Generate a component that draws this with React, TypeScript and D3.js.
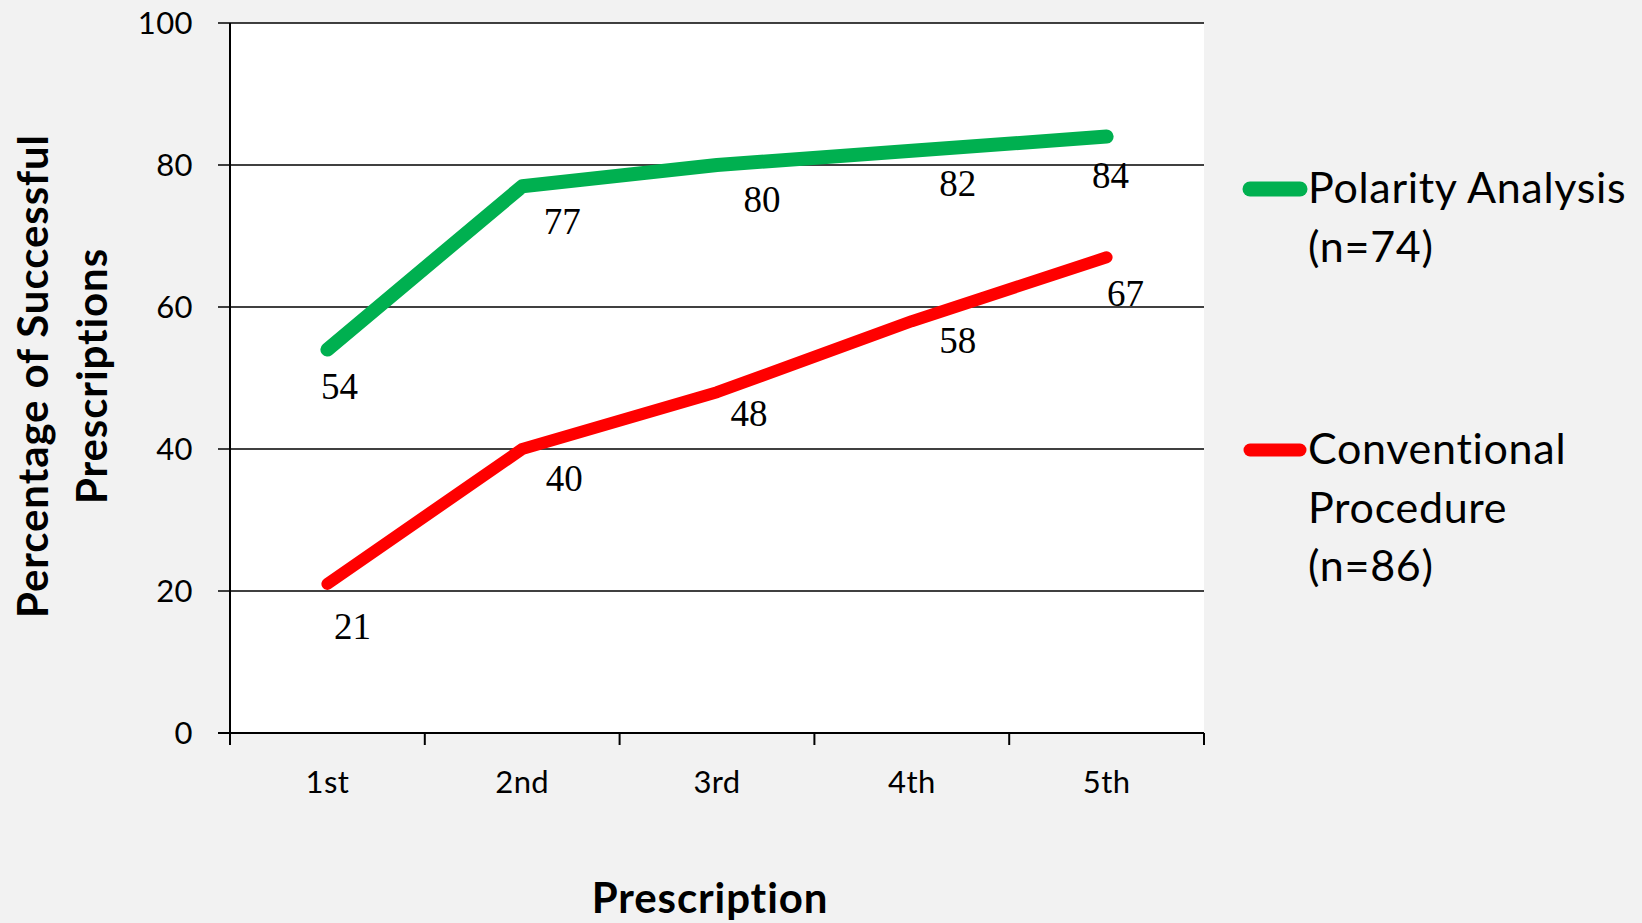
import React from "react";
import * as d3 from "d3";

const categories = ["1st", "2nd", "3rd", "4th", "5th"];
const polarityValues = [54, 77, 80, 82, 84];
const conventionalValues = [21, 40, 48, 58, 67];
const yTicks = [0, 20, 40, 60, 80, 100];
const seriesNames = [["Polarity Analysis", "(n=74)"], ["Conventional", "Procedure", "(n=86)"]];

// label nudges (px, relative to point) - layout only
const polarityNudge = [[12, 37], [40, 36], [45, 35], [46, 33], [4, 39]];
const conventionalNudge = [[25, 43], [42, 30], [32, 22], [46, 20], [19, 37]];

const W = 1642;
const H = 923;
const plot = { left: 230, right: 1204, top: 23, bottom: 733 };
const GREEN = "#00B050";
const RED = "#FF0000";
const SANS = "Lato, 'Open Sans', sans-serif";
const SERIF = "'Liberation Serif', 'DejaVu Serif', serif";

export default function App() {
  const x = d3.scaleBand<string>().domain(categories).range([plot.left, plot.right]).padding(0);
  const y = d3.scaleLinear().domain([0, 100]).range([plot.bottom, plot.top]);
  const cx = (c: string) => (x(c) as number) + x.bandwidth() / 2;
  const line = d3
    .line<number>()
    .x((_, i) => cx(categories[i]))
    .y((v) => y(v));

  const series = [
    { values: polarityValues, color: GREEN, width: 14, nudge: polarityNudge },
    { values: conventionalValues, color: RED, width: 12, nudge: conventionalNudge },
  ];

  const boundaries = [...categories.map((c) => x(c) as number), plot.right];

  return (
    <div style={{ position: "absolute", left: 0, top: 0 }}>
      <svg width={W} height={H} style={{ display: "block" }}>
        <rect x={0} y={0} width={W} height={H} fill="#F2F2F2" />
        <rect
          x={plot.left}
          y={plot.top}
          width={plot.right - plot.left}
          height={plot.bottom - plot.top}
          fill="#FFFFFF"
        />
        {/* gridlines + y ticks */}
        {yTicks.map((t) => (
          <g key={t}>
            <line x1={plot.left - 12} x2={plot.right} y1={y(t)} y2={y(t)} stroke="#000" strokeWidth={1.5} />
            <text
              x={plot.left - 37}
              y={y(t) + 11}
              textAnchor="end"
              fontFamily={SANS}
              fontSize={31}
              letterSpacing={0.4}
              fill="#000"
            >
              {t}
            </text>
          </g>
        ))}
        {/* y axis line */}
        <line x1={plot.left} x2={plot.left} y1={plot.top} y2={plot.bottom} stroke="#000" strokeWidth={2} />
        {/* x axis */}
        <line x1={plot.left - 12} x2={plot.right} y1={plot.bottom} y2={plot.bottom} stroke="#000" strokeWidth={2} />
        {boundaries.map((bx, i) => (
          <line key={i} x1={bx} x2={bx} y1={plot.bottom} y2={plot.bottom + 12} stroke="#000" strokeWidth={2} />
        ))}
        {categories.map((c) => (
          <text key={c} x={cx(c)} y={793} textAnchor="middle" fontFamily={SANS} fontSize={31} letterSpacing={0.4} fill="#000">
            {c}
          </text>
        ))}
        {/* series */}
        {series.map((s, si) => (
          <g key={si}>
            <path
              d={line(s.values) || ""}
              fill="none"
              stroke={s.color}
              strokeWidth={s.width}
              strokeLinecap="round"
              strokeLinejoin="round"
            />
            {s.values.map((v, i) => (
              <text
                key={i}
                x={cx(categories[i]) + s.nudge[i][0]}
                y={y(v) + s.nudge[i][1] + 12}
                textAnchor="middle"
                fontFamily={SERIF}
                fontSize={37}
                fill="#000"
                style={{ fontVariantNumeric: "oldstyle-nums" }}
              >
                {v}
              </text>
            ))}
          </g>
        ))}
        {/* axis titles */}
        <g transform={`translate(48, 376) rotate(-90)`}>
          <text x={0} y={0} textAnchor="middle" fontFamily={SANS} fontWeight="bold" fontSize={42} letterSpacing={0.9} fill="#000">
            Percentage of Successful
          </text>
          <text x={0} y={59} textAnchor="middle" fontFamily={SANS} fontWeight="bold" fontSize={42} letterSpacing={0.9} fill="#000">
            Prescriptions
          </text>
        </g>
        <text x={710} y={913} textAnchor="middle" fontFamily={SANS} fontWeight="bold" fontSize={42} letterSpacing={0.9} fill="#000">
          Prescription
        </text>
        {/* legend */}
        {seriesNames.map((lines, si) => {
          const top = si === 0 ? 203 : 464;
          const ly = si === 0 ? 189 : 450;
          return (
            <g key={si}>
              <line
                x1={1250}
                x2={1300}
                y1={ly}
                y2={ly}
                stroke={series[si].color}
                strokeWidth={series[si].width + 1}
                strokeLinecap="round"
              />
              {lines.map((t, li) => (
                <text key={li} x={1308} y={top + li * 58.5} fontFamily={SANS} fontSize={43} letterSpacing={0.7} fill="#000">
                  {t}
                </text>
              ))}
            </g>
          );
        })}
      </svg>
    </div>
  );
}
